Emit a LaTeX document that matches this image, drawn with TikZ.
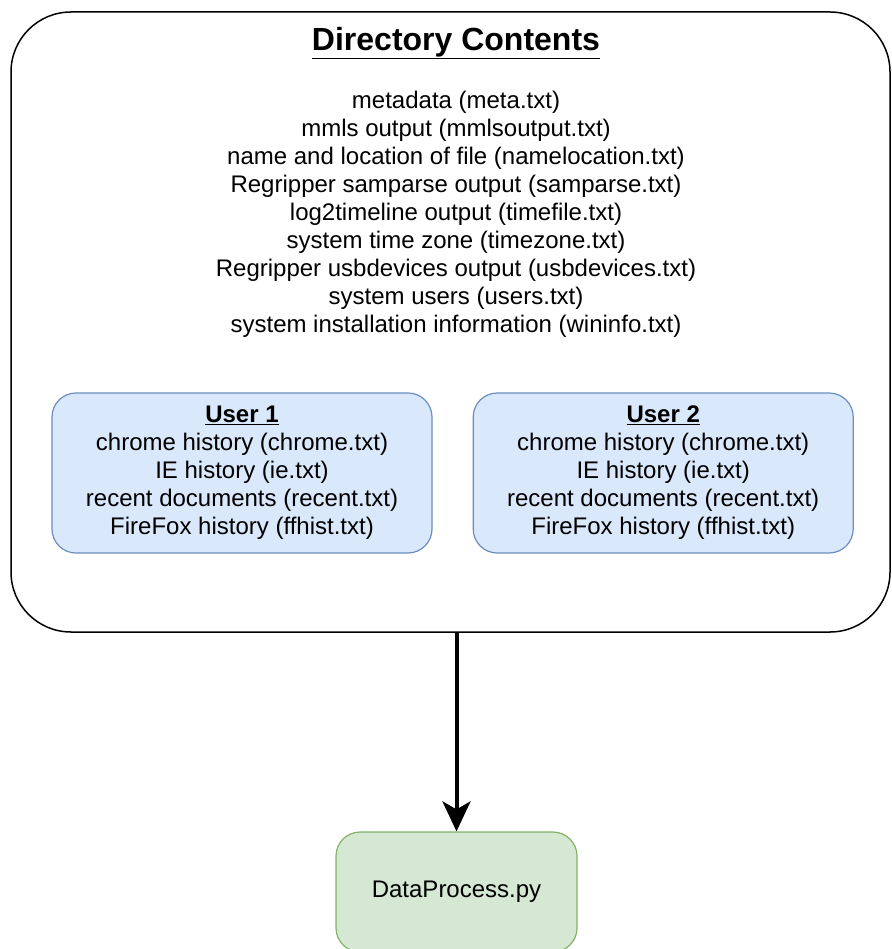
\documentclass[tikz,border=0pt]{standalone}
\usepackage{fontspec}
\setmainfont{Liberation Sans}
\usetikzlibrary{positioning}
\usetikzlibrary{arrows.meta}
\definecolor{userblue}{RGB}{218,232,252}
\definecolor{userline}{RGB}{108,142,191}
\definecolor{procgreen}{RGB}{213,232,212}
\definecolor{procline}{RGB}{130,179,102}
\tikzset{
folder/.style = {rectangle, draw, line width=1.5pt, rounded corners=60pt, minimum width=879pt, minimum height=620pt},
userbox/.style = {rectangle, draw=userline, fill=userblue, line width=1.2pt, rounded corners=24pt, minimum width=380pt, minimum height=160pt, align=center, font=\fontsize{24}{28}\selectfont},
script/.style = {rectangle, draw=procline, fill=procgreen, line width=1.2pt, rounded corners=24pt, minimum width=241pt, minimum height=120pt, font=\fontsize{24}{28}\selectfont},
filelist/.style = {align=center, font=\fontsize{24}{28}\selectfont},
heading/.style = {font=\fontsize{32}{38}\selectfont\bfseries},
line/.style = {draw, line width=4pt, -{Stealth[length=30pt, width=28pt, inset=8pt]}}
}

\begin{document}
\begin{tikzpicture}[x=1pt, y=-1pt]
    \useasboundingbox (0,0) rectangle (891,949);
    \node [folder] (dir) at (450.5,322) {};
    \node [heading] (title) at (456,43) {\underline{Directory Contents}};
    \node [filelist] (files) at (456,214) {metadata (meta.txt)\\ mmls output (mmlsoutput.txt)\\ name and location of file (namelocation.txt)\\ Regripper samparse output (samparse.txt)\\ log2timeline output (timefile.txt)\\ system time zone (timezone.txt)\\ Regripper usbdevices output (usbdevices.txt)\\ system users (users.txt)\\ system installation information (wininfo.txt)};
    \node [userbox] (user1) at (242,473) {\textbf{\underline{User 1}}\\ chrome history (chrome.txt)\\ IE history (ie.txt)\\ recent documents (recent.txt)\\ FireFox history (ffhist.txt)};
    \node [userbox, right=40pt of user1] (user2) {\textbf{\underline{User 2}}\\ chrome history (chrome.txt)\\ IE history (ie.txt)\\ recent documents (recent.txt)\\ FireFox history (ffhist.txt)};
    \node [script] (proc) at (456.5,892) {DataProcess.py};

    \path [line] (dir.south -| proc.north) -- (proc.north);
\end{tikzpicture}
\end{document}
